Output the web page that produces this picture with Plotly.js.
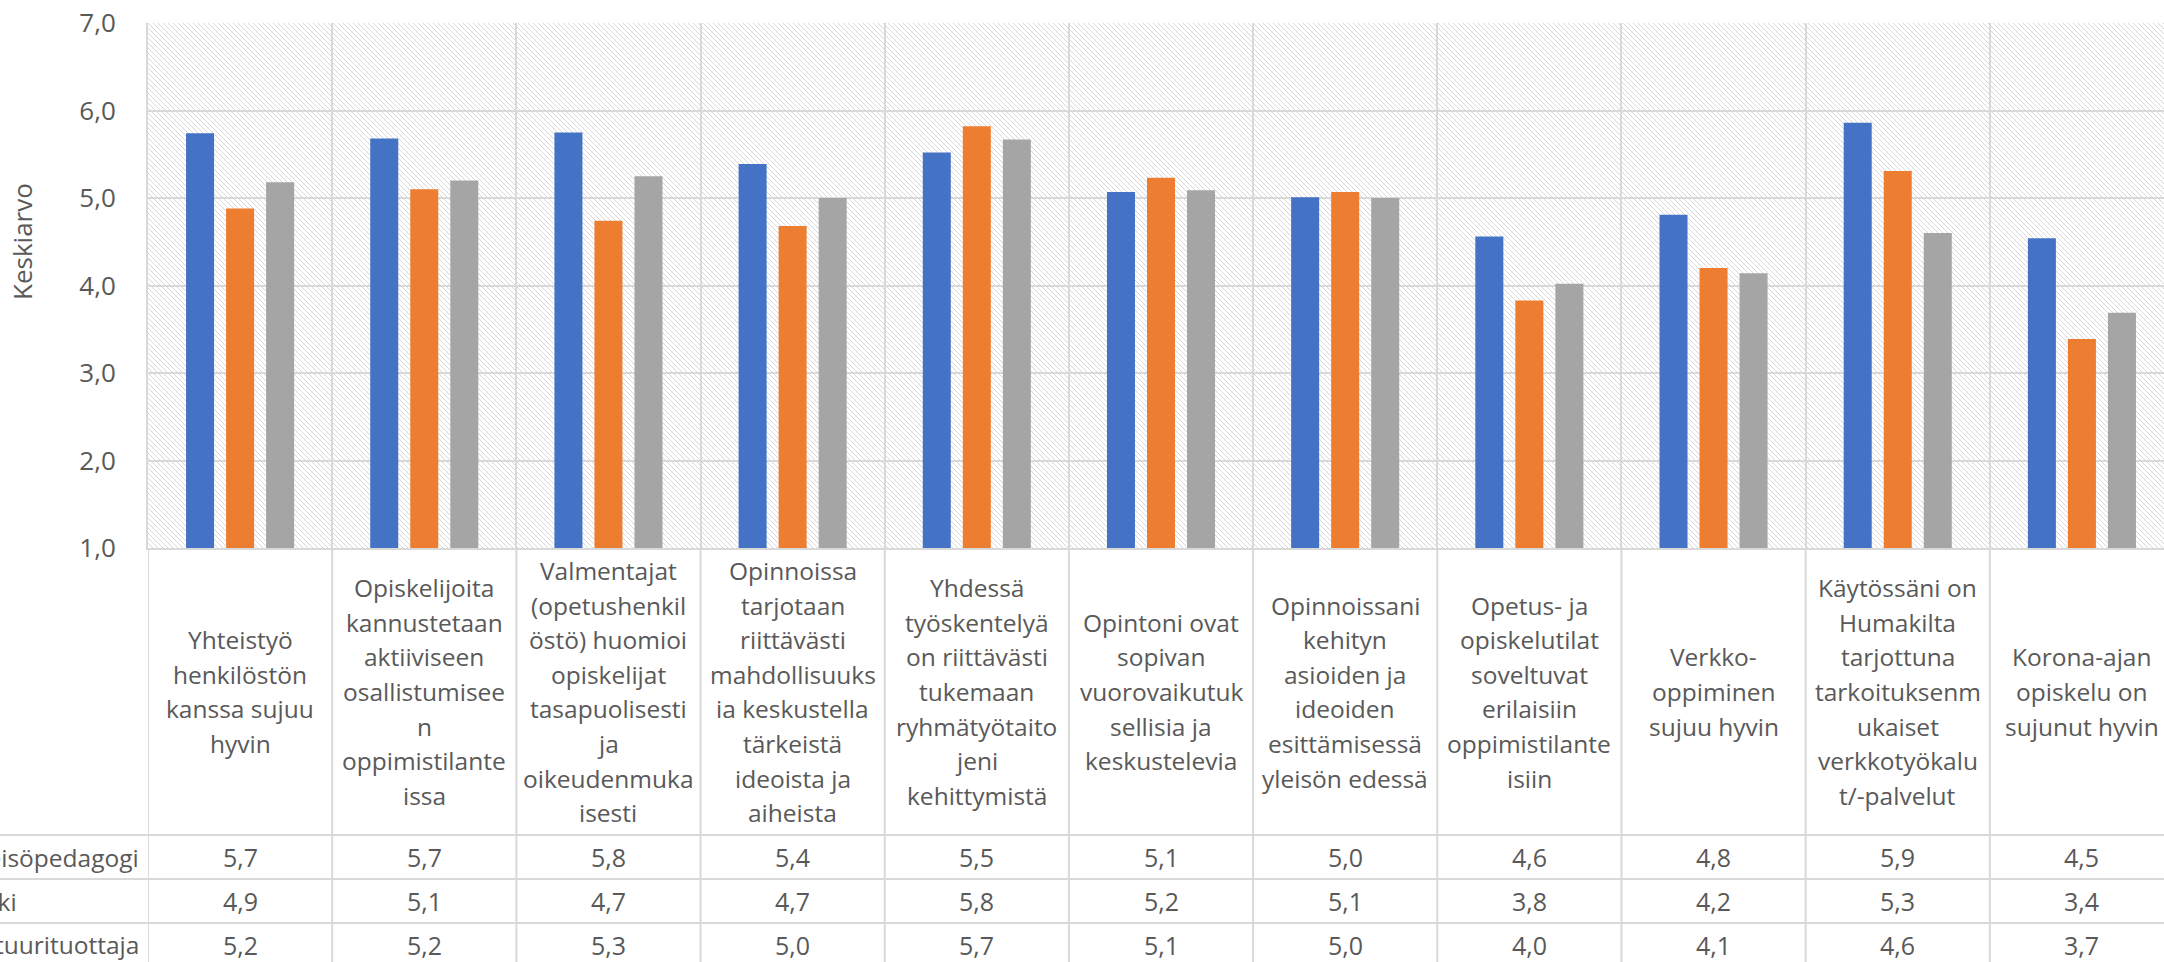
<!DOCTYPE html>
<html><head><meta charset="utf-8">
<script src="https://cdn.plot.ly/plotly-3.0.1.min.js"></script>
<style>
html,body{margin:0;padding:0;background:#fff;overflow:hidden}
#wrap{width:2164px;height:962px;overflow:hidden;position:relative;background:#fff}
#chart{width:2200px;height:990px;position:absolute;left:0;top:0}
</style>
</head><body><div id="wrap"><div id="chart"></div></div>
<script>
// ---- data ----
const categories = [
  "Yhteistyö\nhenkilöstön\nkanssa sujuu\nhyvin",
  "Opiskelijoita\nkannustetaan\naktiiviseen\nosallistumisee\nn\noppimistilante\nissa",
  "Valmentajat\n(opetushenkil\nöstö) huomioi\nopiskelijat\ntasapuolisesti\nja\noikeudenmuka\nisesti",
  "Opinnoissa\ntarjotaan\nriittävästi\nmahdollisuuks\nia keskustella\ntärkeistä\nideoista ja\naiheista",
  "Yhdessä\ntyöskentelyä\non riittävästi\ntukemaan\nryhmätyötaito\njeni\nkehittymistä",
  "Opintoni ovat\nsopivan\nvuorovaikutuk\nsellisia ja\nkeskustelevia",
  "Opinnoissani\nkehityn\nasioiden ja\nideoiden\nesittämisessä\nyleisön edessä",
  "Opetus- ja\nopiskelutilat\nsoveltuvat\nerilaisiin\noppimistilante\nisiin",
  "Verkko-\noppiminen\nsujuu hyvin",
  "Käytössäni on\nHumakilta\ntarjottuna\ntarkoituksenm\nukaiset\nverkkotyökalu\nt/-palvelut",
  "Korona-ajan\nopiskelu on\nsujunut hyvin"
];
const seriesNames = ["Yhteisöpedagogi", "Tulkki", "Kulttuurituottaja"];
const yhteisopedagogi   = [5.74, 5.68, 5.75, 5.39, 5.52, 5.07, 5.01, 4.56, 4.81, 5.86, 4.54];
const tulkki            = [4.88, 5.10, 4.74, 4.68, 5.82, 5.23, 5.07, 3.83, 4.20, 5.31, 3.39];
const kulttuurituottaja = [5.18, 5.20, 5.25, 5.00, 5.67, 5.09, 5.00, 4.02, 4.14, 4.60, 3.69];
const seriesColors = ["#4472C4", "#ED7D31", "#A5A5A5"];
const yTickValues = [1, 2, 3, 4, 5, 6, 7];
const yTitle = "Keskiarvo";

// ---- layout geometry (pixels) ----
const W = 2200, H = 990;
const PL = 148, PT = 23, PR = 2174, PB = 548;
const PW = PR - PL, PH = PB - PT;
const fx = px => (px - PL) / PW;
const fy = py => (PB - py) / PH;
const TXT = "#595959", GRID = "#d9d9d9";
const FONT = "'Open Sans', 'Noto Sans', sans-serif";

const allSeries = [yhteisopedagogi, tulkki, kulttuurituottaja];
const traces = allSeries.map((vals, i) => ({
  type: "bar", name: seriesNames[i], x: categories, y: vals,
  marker: {color: seriesColors[i], line: {width: 0}},
  hoverinfo: "x+y+name"
}));

// hatch background
const s = 5;
const svg = `<svg xmlns='http://www.w3.org/2000/svg' width='${PW}' height='${PH}'><defs><pattern id='p' width='${s}' height='${s}' patternUnits='userSpaceOnUse'><rect width='${s}' height='${s}' fill='#ffffff'/><path d='M0,0L${s},${s}M-1,${s-1}L1,${s+1}M${s-1},-1L${s+1},1' stroke='#d8d8d8' stroke-width='1'/></pattern></defs><rect width='${PW}' height='${PH}' fill='url(#p)'/></svg>`;
const bgSrc = "data:image/svg+xml;charset=utf-8," + encodeURIComponent(svg);

const annotations = [];
const shapes = [];

// category labels (line by line)
const lineH = 34.6, labelCenter = (PB + 835) / 2;
categories.forEach((c, k) => {
  const lines = c.split("\n");
  const n = lines.length;
  lines.forEach((ln, i) => {
    annotations.push({
      xref: "x", yref: "paper", x: c, y: fy(labelCenter + (i - (n - 1) / 2) * lineH),
      text: ln, showarrow: false, xanchor: "center", yanchor: "middle",
      font: {family: FONT, size: 24.5, color: TXT}
    });
  });
});

// data table rows
const rowCenters = [857, 901, 945];
allSeries.forEach((vals, r) => {
  annotations.push({
    xref: "paper", yref: "paper", x: fx(-52), y: fy(rowCenters[r]),
    text: seriesNames[r], showarrow: false, xanchor: "left", yanchor: "middle",
    font: {family: FONT, size: 24.5, color: TXT}
  });
  vals.forEach((v, k) => {
    annotations.push({
      xref: "x", yref: "paper", x: categories[k], y: fy(rowCenters[r]),
      text: v.toFixed(1).replace(".", ","), showarrow: false, xanchor: "center", yanchor: "middle",
      font: {family: FONT, size: 25, color: TXT}
    });
  });
});

// y axis title
annotations.push({
  xref: "paper", yref: "paper", x: fx(22), y: fy(242), text: yTitle, textangle: -90,
  showarrow: false, xanchor: "center", yanchor: "middle",
  font: {family: FONT, size: 26, color: TXT}
});

// table grid lines
for (let k = 0; k <= categories.length; k++) {
  shapes.push({type: "line", xref: "x", yref: "paper", x0: k - 0.5, x1: k - 0.5,
    y0: fy(PB), y1: fy(H + 10), line: {color: GRID, width: 2}, layer: "above"});
}
[835, 879, 923, 967].forEach(py => {
  shapes.push({type: "line", xref: "paper", yref: "paper", x0: fx(-10), x1: fx(W + 10),
    y0: fy(py), y1: fy(py), line: {color: GRID, width: 2}, layer: "above"});
});

const layout = {
  width: W, height: H,
  margin: {l: PL, r: W - PR, t: PT, b: H - PB, pad: 0},
  paper_bgcolor: "#ffffff", plot_bgcolor: "rgba(0,0,0,0)",
  showlegend: false,
  barmode: "group", bargap: 0.348, bargroupgap: 0.3,
  separators: ", ",
  font: {family: FONT, color: TXT},
  xaxis: {
    type: "category", range: [-0.5, categories.length - 0.5],
    showticklabels: false, ticks: "", tickson: "boundaries",
    showgrid: true, gridcolor: GRID, gridwidth: 2,
    showline: true, linecolor: GRID, linewidth: 2, mirror: false,
    zeroline: false, fixedrange: true
  },
  yaxis: {
    range: [1, 7], tickvals: yTickValues, tickformat: ".1f",
    ticks: "outside", ticklen: 25, tickcolor: "rgba(0,0,0,0)",
    tickfont: {family: FONT, size: 26, color: TXT},
    showgrid: true, gridcolor: GRID, gridwidth: 2,
    showline: true, linecolor: GRID, linewidth: 2,
    zeroline: false, fixedrange: true
  },
  images: [{
    source: bgSrc, xref: "paper", yref: "paper", x: 0, y: 1, sizex: 1, sizey: 1,
    xanchor: "left", yanchor: "top", sizing: "stretch", layer: "below"
  }],
  annotations: annotations,
  shapes: shapes
};

Plotly.newPlot("chart", traces, layout, {displayModeBar: false, staticPlot: true});
</script>
</body></html>
